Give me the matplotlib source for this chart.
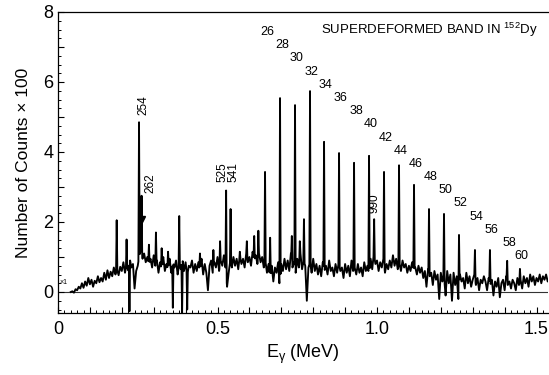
import numpy as np
import matplotlib
matplotlib.use("Agg")
import matplotlib.pyplot as plt
from matplotlib.ticker import MultipleLocator, FuncFormatter

plt.rcParams['font.family'] = ['Liberation Sans', 'DejaVu Sans']
plt.rcParams['mathtext.fontset'] = 'custom'
plt.rcParams['mathtext.rm'] = 'Liberation Sans'

# ---------------- data ----------------
E_START, E_STEP = 0.040, 0.005  # MeV
base_counts = [
    0.00, 0.02, -0.02, 0.08, 0.05, 0.15, 0.10, 0.25, 0.12, 0.30, 0.18, 0.40, 0.22, 0.35, 0.15, 0.32, 0.25, 0.45, 0.28, 0.40,
    0.30, 0.55, 0.35, 0.62, 0.40, 0.58, 0.45, 0.70, 0.50, 0.65, 0.48, 0.72, 0.60, 0.85, 0.55, 0.78, 0.62, 0.95, 0.70, 0.80,
    0.10, 0.60, 0.75, 1.05, 1.20, 0.95, 1.10, 0.85, 1.00, 0.80, 0.95, 0.70, 1.05, 0.75, 0.90, 0.55, 0.85, 0.65, 1.00, 0.60,
    0.80, 0.65, 0.95, 0.55, 0.85, 0.70, 0.90, 0.50, 0.80, 0.65, 0.95, 0.60, 0.85, 0.45, 0.75, 0.70, 0.90, 0.55, 0.80, 0.60,
    0.85, 0.60, 0.95, 0.50, 0.80, 0.55, 0.05, 0.75, 0.90, 0.55, 0.85, 0.70, 1.00, 0.60, 0.90, 0.75, 1.05, 0.70, 0.15, 0.55,
    0.90, 0.70, 1.00, 0.75, 0.95, 0.65, 1.05, 0.80, 0.95, 0.70, 1.10, 0.85, 1.00, 0.75, 1.15, 0.90, 1.05, 0.80, 1.10, 0.85,
    1.00, 0.70, 0.90, 0.55, 0.80, 0.40, 0.75, 0.30, 0.70, 0.55, 0.85, 0.10, 0.80, 0.60, 0.95, 0.65, 0.90, 0.60, 1.10, 0.70,
    0.85, 0.55, 0.95, 0.70, 1.10, 0.65, 0.90, 0.75, -0.25, 0.70, 0.85, 0.55, 0.95, 0.60, 0.80, 0.50, 0.75, 0.45, 0.85, 0.60,
    0.75, 0.50, 0.90, 0.60, 0.70, 0.45, 0.80, 0.55, 0.85, 0.60, 0.70, 0.40, 0.80, 0.55, 0.75, 0.45, 0.90, 0.60, 0.70, 0.50,
    0.80, 0.55, 0.70, 0.45, 0.85, 0.60, 0.75, 0.50, 0.95, 0.65, 1.10, 0.80, 0.90, 0.60, 0.85, 0.70, 0.95, 0.55, 0.80, 0.65,
    0.90, 0.70, 1.05, 0.75, 0.95, 0.65, 0.85, 0.60, 0.90, 0.70, 0.80, 0.55, 0.75, 0.60, 0.85, 0.65, 0.70, 0.50, 0.75, 0.55,
    0.70, 0.40, 0.60, 0.15, 0.65, 0.45, 0.55, 0.20, 0.60, 0.35, 0.50, -0.20, 0.55, 0.30, 0.45, -0.10, 0.60, 0.25, 0.50, -0.25,
    0.55, 0.20, 0.45, -0.20, 0.50, 0.30, 0.40, 0.10, 0.55, 0.25, 0.45, 0.15, 0.35, 0.50, 0.20, 0.40, 0.05, 0.35, 0.25, 0.45,
    0.30, 0.05, 0.40, 0.20, 0.35, -0.10, 0.30, 0.15, 0.40, -0.15, 0.25, 0.35, 0.05, 0.45, 0.20, 0.30, 0.10, 0.35, 0.25, 0.05,
    0.40, 0.20, 0.35, 0.10, 0.45, 0.25, 0.40, 0.15, 0.50, 0.30, 0.45, 0.20, 0.40, 0.30, 0.50, 0.25, 0.45, 0.35, 0.50, 0.30,
    0.40,
]

# superdeformed band transitions
band_energy = [0.649, 0.696, 0.743, 0.790, 0.834, 0.881, 0.928, 0.975, 1.022,
               1.069, 1.116, 1.163, 1.210, 1.257, 1.307, 1.354, 1.408, 1.448]
band_height = [3.43, 5.54, 5.34, 5.74, 4.29, 3.97, 3.69, 3.89, 3.43,
               3.62, 3.06, 2.37, 2.23, 1.63, 1.20, 1.20, 0.89, 0.66]
band_spin = [26, 28, 30, 32, 34, 36, 38, 40, 42, 44, 46, 48, 50, 52, 54, 56, 58, 60]

# other lines
other_energy = [0.184, 0.215, 0.254, 0.262, 0.285, 0.307, 0.325, 0.345, 0.380,
                0.445, 0.487, 0.508, 0.527, 0.541, 0.570, 0.592, 0.615, 0.628,
                0.665, 0.733, 0.758, 0.771, 0.991]
other_height = [2.05, 1.50, 4.85, 2.75, 1.35, 1.70, 1.25, 1.15, 2.17,
                1.10, 1.20, 1.45, 2.90, 2.37, 1.15, 1.45, 1.60, 1.75,
                1.55, 1.60, 1.45, 2.08, 2.08]

# negative spikes
dip_energy = [0.224, 0.360, 0.389, 0.405]
dip_value = [-0.55, -0.45, -0.62, -0.50]

# rotated energy labels (text, energy of line)
line_labels = ["254", "262", "525", "541", "990"]
line_label_energy = [0.254, 0.262, 0.525, 0.541, 0.990]

# ---------------- build spectrum ----------------
base_counts = np.array(base_counts)
base_e = E_START + E_STEP * np.arange(len(base_counts))
pe = np.array(band_energy + other_energy + dip_energy)
ph = np.array(band_height + other_height + dip_value)
hw = 0.002
keep = np.array([np.all(np.abs(e - pe) > hw) for e in base_e])
xs = np.concatenate([base_e[keep], pe - hw, pe, pe + hw])
ys = np.concatenate([base_counts[keep],
                     np.interp(pe - hw, base_e, base_counts), ph,
                     np.interp(pe + hw, base_e, base_counts)])
order = np.argsort(xs, kind="stable")
xs, ys = xs[order], ys[order]

# ---------------- figure ----------------
fig = plt.figure(figsize=(5.49, 3.75), dpi=100)
ax = fig.add_axes([58 / 549, 1 - 313 / 375, (548 - 58) / 549, (313 - 12) / 375])
ax.axhline(0, color="#333333", lw=0.8, zorder=1)
ax.plot(xs, ys, color="black", lw=1.35, zorder=2)
ax.plot([0.262], [2.1], marker="v", color="black", ms=5, zorder=3)

ax.set_xlim(0, 1.536)
ax.set_ylim(-0.6, 8.0)
ax.spines["right"].set_visible(False)
for s in ["left", "bottom", "top"]:
    ax.spines[s].set_linewidth(0.9)

ax.xaxis.set_major_locator(MultipleLocator(0.1))
ax.xaxis.set_minor_locator(MultipleLocator(0.02))
ax.xaxis.set_major_formatter(FuncFormatter(
    lambda v, p: ("0" if abs(v) < 1e-6 else f"{v:.1f}") if abs(v * 2 - round(v * 2)) < 1e-6 else ""))
ax.yaxis.set_major_locator(MultipleLocator(1))
ax.yaxis.set_minor_locator(MultipleLocator(0.25))
ax.yaxis.set_major_formatter(FuncFormatter(
    lambda v, p: f"{int(round(v))}" if int(round(v)) % 2 == 0 else ""))
ax.tick_params(which="both", direction="in", labelsize=13)
ax.tick_params(which="major", length=4.5, width=0.8)
ax.tick_params(which="minor", length=2.5, width=0.7)
ax.tick_params(axis="x", pad=6)

ax.set_xlabel(r"E$_{\mathregular{γ}}$ (MeV)", fontsize=13, labelpad=3)
ax.set_ylabel("Number of Counts × 100", fontsize=12.5, labelpad=9)

ax.text(1.505, 7.49, r"SUPERDEFORMED BAND IN $^{\mathregular{152}}$Dy",
        ha="right", va="center", fontsize=9.5)

for i, (e, s) in enumerate(zip(band_energy, band_spin)):
    ax.text(e + 0.006, 7.43 - 0.377 * i, str(s), ha="center", va="center", fontsize=9)

label_y = [5.06, 2.83, 3.15, 3.15, 2.26]
label_dx = [0.013, 0.029, -0.010, 0.010, 0.001]
for t, e, y, dx in zip(line_labels, line_label_energy, label_y, label_dx):
    ax.text(e + dx, y, t, rotation=90, ha="center", va="bottom", fontsize=8.5)

ax.text(0.016, 0.26, "×1", fontsize=5, ha="center", va="center")

fig.savefig("out.png", dpi=100, facecolor="white")
